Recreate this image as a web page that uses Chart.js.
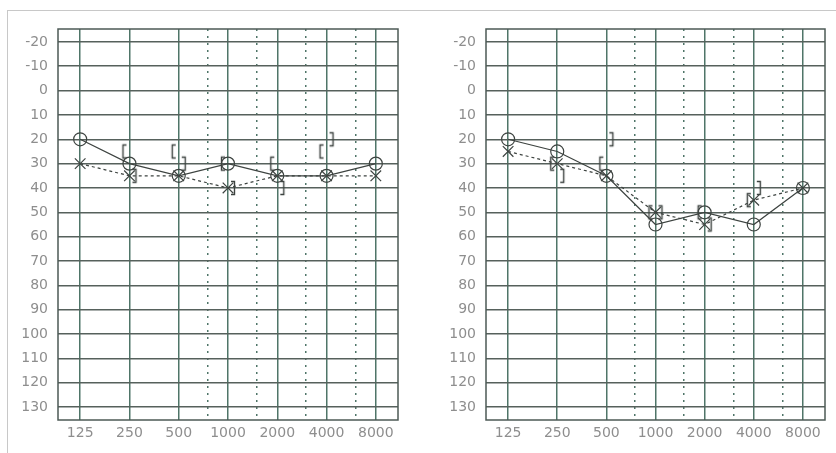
<!DOCTYPE html>
<html>
<head>
<meta charset="utf-8">
<script src="https://cdn.jsdelivr.net/npm/chart.js@4.4.1/dist/chart.umd.min.js"></script>
<style>
  html, body { margin: 0; padding: 0; background: #fff; }
  #page { position: relative; width: 836px; height: 453px; overflow: hidden; background: #fff; }
  #frame { position: absolute; left: 7px; top: 10px; width: 840px; height: 460px;
           border-top: 1px solid #c8c8c8; border-left: 1px solid #c8c8c8; }
  .panel { position: absolute; top: 0; }
</style>
</head>
<body>
<div id="page">
  <div id="frame"></div>
  <canvas id="leftEar" class="panel" style="left:0" width="418" height="453"></canvas>
  <canvas id="rightEar" class="panel" style="left:418px" width="418" height="453"></canvas>
</div>
<script>
// frequencies (Hz) and hearing level ticks (dB)
const freqs = [125, 250, 500, 1000, 2000, 4000, 8000];
const gridFreqs = [125, 250, 500, 750, 1000, 1500, 2000, 3000, 4000, 6000, 8000];
const dbTicks = [-20, -10, 0, 10, 20, 30, 40, 50, 60, 70, 80, 90, 100, 110, 120, 130];

// first audiogram
const leftO = [20, 30, 35, 30, 35, 35, 30];
const leftX = [30, 35, 35, 40, 35, 35, 35];
const leftOpenBr = [null, 25, 25, 30, 30, 25, null];
const leftCloseBr = [null, 35, 30, 40, 40, 20, null];

// second audiogram
const rightO = [20, 25, 35, 55, 50, 55, 40];
const rightX = [25, 30, 35, 50, 55, 45, 40];
const rightOpenBr = [null, 30, 30, 50, 50, 45, null];
const rightCloseBr = [null, 35, 20, 50, 55, 40, null];

const ink = '#3d4340';
const labelColor = '#8e8e8e';
const font = { family: 'DejaVu Sans', size: 14 };

// bracket symbols, drawn off-centre so they sit beside the frequency line
function bracket(open) {
    const c = document.createElement('canvas');
    c.width = 30;
    c.height = 18;
    const g = c.getContext('2d');
    g.strokeStyle = ink;
    g.lineWidth = 1.4;
    g.beginPath();
    if (open) {
        g.moveTo(12, 2.5); g.lineTo(8.5, 2.5); g.lineTo(8.5, 15.5); g.lineTo(12, 15.5);
    } else {
        g.moveTo(18, 2.5); g.lineTo(21.5, 2.5); g.lineTo(21.5, 15.5); g.lineTo(18, 15.5);
    }
    g.stroke();
    return c;
}
const openBr = bracket(true);
const closeBr = bracket(false);

const frame = {
    id: 'frame',
    beforeDatasetsDraw(chart) {
        const a = chart.chartArea;
        const ctx = chart.ctx;
        ctx.save();
        ctx.strokeStyle = '#4c5a55';
        ctx.lineWidth = 1.5;
        ctx.strokeRect(a.left, a.top, a.right - a.left, a.bottom - a.top);
        ctx.restore();
    }
};

function points(arr) {
    return freqs.map((f, i) => ({ x: f, y: arr[i] })).filter(p => p.y !== null);
}

function audiogram(id, o, x, openVals, closeVals, yWidth, padRight) {
    new Chart(document.getElementById(id), {
        type: 'line',
        data: {
            datasets: [
                { data: points(o), borderColor: ink, borderWidth: 1.2, pointStyle: 'circle', pointRadius: 6.5,
                  pointBorderColor: ink, pointBackgroundColor: 'rgba(0,0,0,0)', pointBorderWidth: 1.2 },
                { data: points(x), borderColor: ink, borderWidth: 1.2, borderDash: [3, 3], pointStyle: 'crossRot',
                  pointRadius: 7.5, pointBorderColor: ink, pointBorderWidth: 1.2 },
                { data: points(openVals), showLine: false, pointStyle: openBr, pointRadius: 6 },
                { data: points(closeVals), showLine: false, pointStyle: closeBr, pointRadius: 6 }
            ]
        },
        options: {
            responsive: false,
            animation: false,
            layout: { padding: { left: 0, right: padRight, top: 29, bottom: 0 } },
            plugins: { legend: { display: false }, tooltip: { enabled: false } },
            scales: {
                x: {
                    type: 'logarithmic',
                    bounds: 'data',
                    min: 125 / Math.pow(2, 0.45),
                    max: 8000 * Math.pow(2, 0.45),
                    afterBuildTicks: s => { s.ticks = gridFreqs.map(v => ({ value: v })); },
                    afterFit: s => { s.height = 33; },
                    ticks: {
                        autoSkip: false, maxRotation: 0, padding: 5, color: labelColor, font: font,
                        callback: v => freqs.includes(v) ? String(v) : ''
                    },
                    grid: { color: '#4f7568', lineWidth: 1.5, drawTicks: false },
                    border: {
                        display: false,
                        dash: ctx => (ctx.tick && !freqs.includes(ctx.tick.value)) ? [2, 5] : []
                    }
                },
                y: {
                    type: 'linear',
                    reverse: true,
                    bounds: 'data',
                    min: -25.3,
                    max: 135.3,
                    afterBuildTicks: s => { s.ticks = dbTicks.map(v => ({ value: v })); },
                    afterFit: s => { s.width = yWidth; },
                    ticks: { padding: 10, color: labelColor, font: font, callback: v => String(v) },
                    grid: { color: '#56615c', lineWidth: 1.5, drawTicks: false },
                    border: { display: false }
                }
            }
        },
        plugins: [frame]
    });
}

audiogram('leftEar', leftO, leftX, leftOpenBr, leftCloseBr, 58, 20);
audiogram('rightEar', rightO, rightX, rightOpenBr, rightCloseBr, 68, 11);
</script>
</body>
</html>
